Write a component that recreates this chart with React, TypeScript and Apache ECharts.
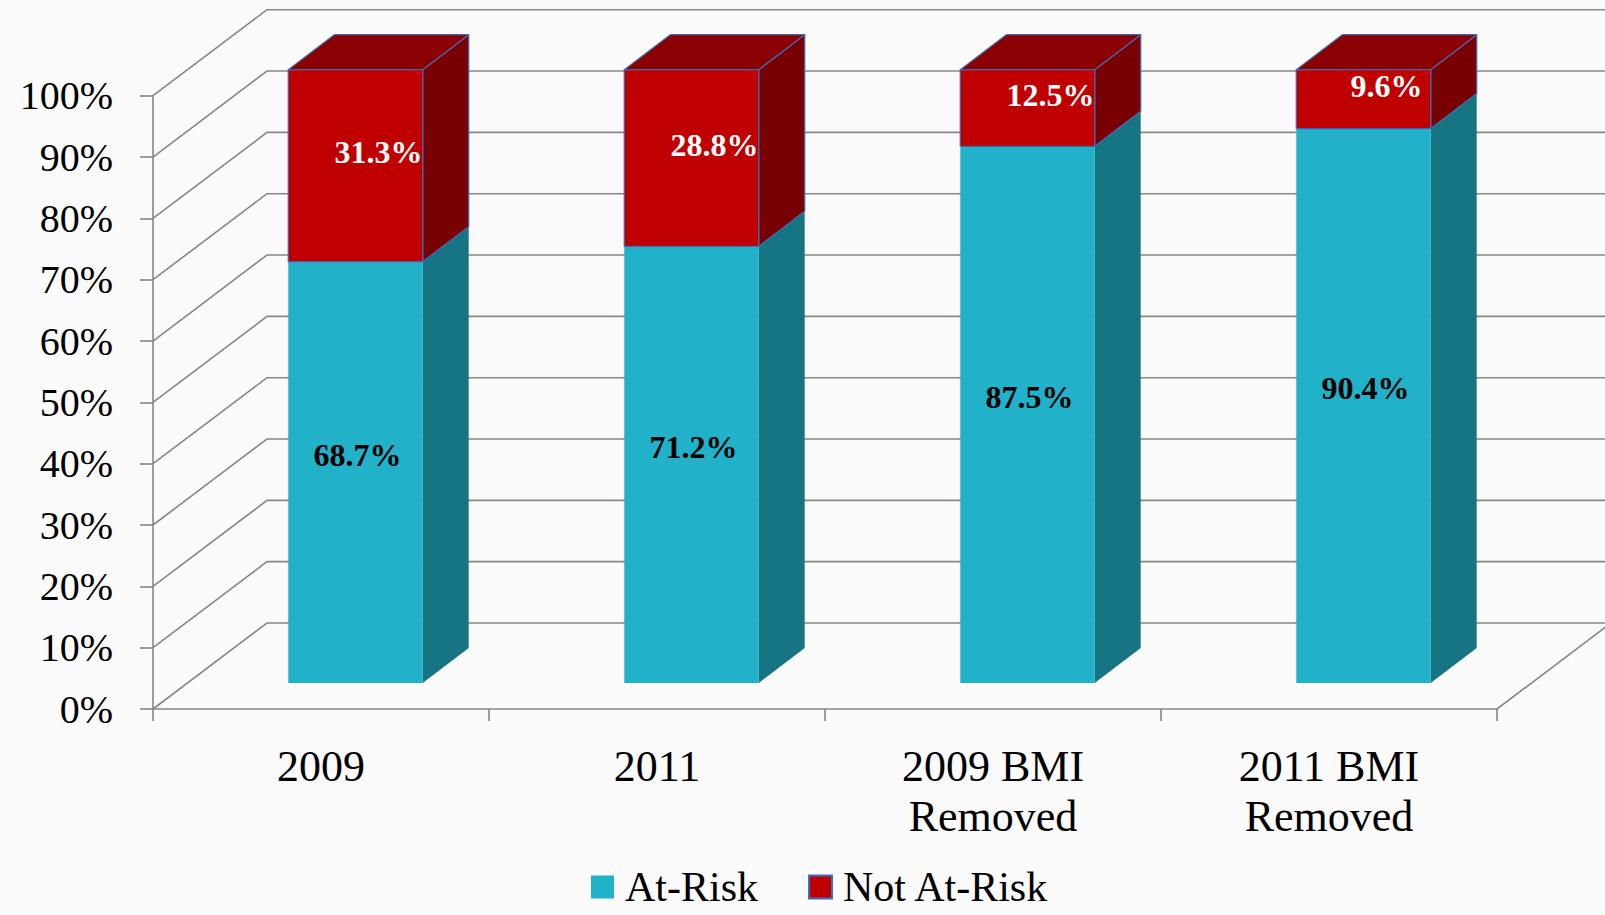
import React, { useEffect, useRef } from "react";
import * as echarts from "echarts";

const categories = ["2009", "2011", "2009 BMI\nRemoved", "2011 BMI\nRemoved"];
const atRisk = [68.7, 71.2, 87.5, 90.4];
const notAtRisk = [31.3, 28.8, 12.5, 9.6];
const yTicks = [0, 10, 20, 30, 40, 50, 60, 70, 80, 90, 100];

const FONT = "'Liberation Serif', 'Times New Roman', serif";
const GRID_COLOR = "#868686";

export default function App() {
  const ref = useRef<HTMLDivElement>(null);
  useEffect(() => {
    const chart = echarts.init(ref.current!, null, { renderer: "svg" });
    const WALL_DX = 114, WALL_DY = -86;
    const BAR_DX = 34.5, BAR_DY = -26;
    const DEPTH_DX = 46, DEPTH_DY = -35;

    const wallRender = (params: any, api: any) => {
      const cs = params.coordSys;
      const v = api.value(1);
      const y = api.coord([0, v])[1];
      const x0 = cs.x;
      const children: any[] = [
        {
          type: "polyline",
          shape: { points: [[x0, y], [x0 + WALL_DX, y + WALL_DY], [1720, y + WALL_DY]] },
          style: { stroke: GRID_COLOR, lineWidth: 1.6, fill: "none" },
        },
      ];
      if (v === 0) {
        children.push({
          type: "line",
          shape: { x1: x0 + cs.width, y1: y, x2: x0 + cs.width + WALL_DX, y2: y + WALL_DY },
          style: { stroke: GRID_COLOR, lineWidth: 1.6 },
        });
      }
      return { type: "group", children };
    };

    const makeBarRender =
      (front: string, side: string, top: string, stroke: string | null, labelColor: string, labelShift: boolean, drawTop: boolean) =>
      (params: any, api: any) => {
        const i = api.value(0);
        const s = api.value(1);
        const e = api.value(2);
        const pS = api.coord([i, s]);
        const pE = api.coord([i, e]);
        const w = api.size([1, 0])[0] * 0.4;
        const cx = pS[0] + BAR_DX;
        const xl = cx - w / 2;
        const xr = cx + w / 2;
        const yb = pS[1] + BAR_DY;
        const yt = pE[1] + BAR_DY;
        const st: any = stroke ? { stroke, lineWidth: 1.3, lineJoin: "round" } : {};
        const children: any[] = [
          {
            type: "polygon",
            shape: { points: [[xr, yt], [xr + DEPTH_DX, yt + DEPTH_DY], [xr + DEPTH_DX, yb + DEPTH_DY], [xr, yb]] },
            style: { fill: side, ...st },
          },
        ];
        if (drawTop) {
          children.push({
            type: "polygon",
            shape: { points: [[xl, yt], [xr, yt], [xr + DEPTH_DX, yt + DEPTH_DY], [xl + DEPTH_DX, yt + DEPTH_DY]] },
            style: { fill: top, ...st },
          });
        }
        children.push({
          type: "rect",
          shape: { x: xl, y: yt, width: w, height: yb - yt },
          style: { fill: front, ...st },
        });
        children.push({
          type: "text",
          x: cx + (labelShift ? DEPTH_DX / 2 : 2),
          y: (yb + yt) / 2 + DEPTH_DY / 2 + (labelShift ? 4 : 0),
          style: {
            text: (e - s).toFixed(1) + "%",
            fill: labelColor,
            font: `bold 32px ${FONT}`,
            align: "center",
            verticalAlign: "middle",
          },
        });
        return { type: "group", children };
      };

    chart.setOption({
      animation: false,
      backgroundColor: "#fafafa",
      grid: { left: 153, top: 95.7, width: 1344, height: 613.3, containLabel: false },
      legend: {
        left: 591,
        top: 866,
        padding: 0,
        itemWidth: 23,
        itemHeight: 23,
        itemGap: 50,
        textStyle: { fontFamily: FONT, fontSize: 42, lineHeight: 42, color: "#000", padding: [0, 0, 0, 6] },
        data: [
          { name: "At-Risk", icon: "rect", itemStyle: { color: "#21B1C8" } },
          { name: "Not At-Risk", icon: "rect", itemStyle: { color: "#C00000", borderColor: "#3E6DC0", borderWidth: 2 } },
        ],
      },
      xAxis: {
        type: "category",
        data: categories,
        axisLine: { show: true, lineStyle: { color: GRID_COLOR, width: 1.6 } },
        axisTick: { show: true, length: 12, lineStyle: { color: GRID_COLOR, width: 1.6 } },
        axisLabel: {
          fontFamily: FONT,
          fontSize: 44,
          color: "#000",
          margin: 32,
          lineHeight: 50,
          verticalAlign: "top",
          interval: 0,
        },
        splitLine: { show: false },
      },
      yAxis: {
        type: "value",
        min: 0,
        max: 100,
        interval: 10,
        axisLine: { show: true, lineStyle: { color: GRID_COLOR, width: 1.6 } },
        axisTick: { show: true, length: 13, lineStyle: { color: GRID_COLOR, width: 1.6 } },
        axisLabel: { formatter: "{value}%", fontFamily: FONT, fontSize: 40, color: "#000", margin: 40 },
        splitLine: { show: false },
      },
      series: [
        {
          type: "custom",
          name: "wall",
          z: 1,
          clip: false,
          silent: true,
          encode: { x: 0, y: 1 },
          data: yTicks.map((v) => [0, v]),
          renderItem: wallRender,
        },
        {
          type: "custom",
          name: "At-Risk",
          z: 2,
          clip: false,
          itemStyle: { color: "#21B1C8" },
          encode: { x: 0, y: 2 },
          data: categories.map((c, i) => [i, 0, atRisk[i]]),
          renderItem: makeBarRender("#21B1C8", "#167583", "#1A93A6", null, "#000", false, false),
        },
        {
          type: "custom",
          name: "Not At-Risk",
          z: 3,
          clip: false,
          itemStyle: { color: "#C00000", borderColor: "#3E6DC0", borderWidth: 2 },
          encode: { x: 0, y: 2 },
          data: categories.map((c, i) => [i, atRisk[i], atRisk[i] + notAtRisk[i]]),
          renderItem: makeBarRender("#C00000", "#780000", "#8B0000", "#4466B0", "#fff", true, true),
        },
      ],
    });
    return () => chart.dispose();
  }, []);
  return <div ref={ref} style={{ position: "fixed", left: 0, top: 0, width: 1605, height: 915 }} />;
}
